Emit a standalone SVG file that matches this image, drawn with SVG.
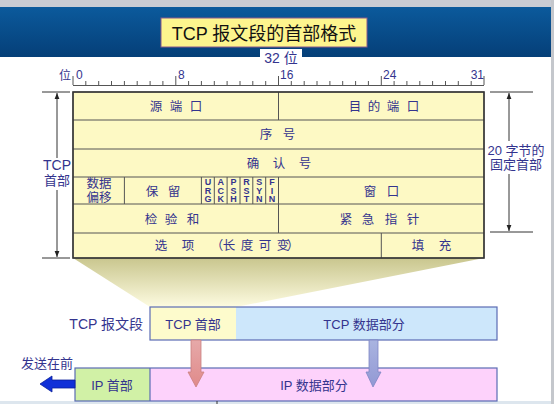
<svg xmlns="http://www.w3.org/2000/svg" width="554" height="404" viewBox="0 0 554 404">
<defs>
<linearGradient id="banner" x1="0" y1="0" x2="0" y2="1">
<stop offset="0" stop-color="#0b5a9c"/><stop offset="1" stop-color="#053f78"/>
</linearGradient>
<linearGradient id="trap" x1="0" y1="0" x2="0" y2="1">
<stop offset="0" stop-color="#c9c68e"/><stop offset="1" stop-color="#fdfbe0"/>
</linearGradient>
<linearGradient id="redA" x1="0" y1="0" x2="0" y2="1">
<stop offset="0" stop-color="#e6a9a9"/><stop offset="1" stop-color="#e08a8a"/>
</linearGradient>
<linearGradient id="bluA" x1="0" y1="0" x2="0" y2="1">
<stop offset="0" stop-color="#a9b4e0"/><stop offset="1" stop-color="#9298d4"/>
</linearGradient>
<marker id="ah" viewBox="0 0 10 10" refX="10" refY="5" markerWidth="6" markerHeight="6" orient="auto-start-reverse">
<path d="M0,1 L10,5 L0,9 z" fill="#222"/>
</marker>
<style>
.t{font-family:"Liberation Sans","Noto Sans CJK SC",sans-serif;fill:#34348e;}
.c{font-size:12.5px;}
.cell{fill:#fdf9c4;stroke:#555;stroke-width:1;}
.flag{font-family:"Liberation Sans",sans-serif;font-size:9px;font-weight:bold;fill:#34348e;text-anchor:middle;}
.dim{stroke:#333;stroke-width:1;fill:none;}
.tick{stroke:#555;stroke-width:1;}
</style>
</defs>

<!-- background -->
<rect x="0" y="0" width="554" height="404" fill="#ffffff"/>
<rect x="0" y="0" width="554" height="7" fill="#c9ccd3"/>
<rect x="0" y="7" width="552" height="50" fill="url(#banner)"/>
<rect x="551" y="0" width="3" height="404" fill="#c4c7cc"/>
<rect x="0" y="401" width="551" height="3" fill="#dde6ee"/>

<g id="title">
<rect x="161" y="18" width="206" height="29" fill="#fdf58e" stroke="#8a5a8a" stroke-width="1"/>
<text x="264" y="40" text-anchor="middle" font-family="Liberation Sans,'Noto Sans CJK SC',sans-serif" font-size="18" fill="#111">TCP 报文段的首部格式</text>
</g>

<g id="bits32">
<rect x="260" y="49" width="42" height="18" fill="#ffffff"/>
<text class="t" x="281" y="63" text-anchor="middle" font-size="14">32 位</text>
</g>

<g id="ruler">
<text class="t" x="65" y="80" text-anchor="middle" font-size="12">位</text>
<text class="t" x="76" y="79" font-size="12">0</text>
<text class="t" x="178" y="79" font-size="12">8</text>
<text class="t" x="280" y="79" font-size="12">16</text>
<text class="t" x="383" y="79" font-size="12">24</text>
<text class="t" x="484" y="79" font-size="12" text-anchor="end">31</text>
<line class="tick" x1="73" y1="85.5" x2="484" y2="85.5"/>
<path class="tick" d="M73,76V85 M85.8,81V85 M98.7,81V85 M111.5,81V85 M124.4,81V85 M137.2,81V85 M150.1,81V85 M162.9,81V85 M175.8,76V85 M188.6,81V85 M201.4,81V85 M214.3,81V85 M227.1,81V85 M240,81V85 M252.8,81V85 M265.7,81V85 M278.5,76V85 M291.3,81V85 M304.2,81V85 M317,81V85 M329.9,81V85 M342.7,81V85 M355.6,81V85 M368.4,81V85 M381.3,76V85 M394.1,81V85 M406.9,81V85 M419.8,81V85 M432.6,81V85 M445.5,81V85 M458.3,81V85 M471.2,81V85 M484,76V85"/>
</g>

<!-- trapezoid projection -->
<polygon id="projection" points="73,258 484,258 236,307 150,307" fill="url(#trap)"/>

<g id="header-table">
<rect class="cell" x="73" y="92" width="411" height="166"/>
<path d="M73,120H484 M73,149H484 M73,177H484 M73,204H484 M73,233H484 M278.5,92V120 M124.4,177V204 M201.4,177V204 M214.3,177V204 M227.1,177V204 M240,177V204 M252.8,177V204 M265.7,177V204 M278.5,177V233 M381.3,233V258" stroke="#555" stroke-width="1" fill="none"/>
<rect x="73" y="92" width="411" height="166" fill="none" stroke="#333" stroke-width="1.5"/>
</g>

<g id="src-port"><text class="t c" x="156 176 196" y="111" text-anchor="middle">源端口</text></g>
<g id="dst-port"><text class="t c" x="355 374 393 413" y="111" text-anchor="middle">目的端口</text></g>
<g id="seq"><text class="t c" x="266 289" y="139" text-anchor="middle">序号</text></g>
<g id="ack"><text class="t c" x="253 279 305" y="168" text-anchor="middle">确认号</text></g>
<g id="offset">
<text class="t c" x="99" y="188" text-anchor="middle">数据</text>
<text class="t c" x="99" y="202" text-anchor="middle">偏移</text>
</g>
<g id="reserved"><text class="t c" x="152 174" y="196" text-anchor="middle">保留</text></g>
<g id="flags">
<text class="flag" x="207.9" y="185">U</text><text class="flag" x="207.9" y="193.5">R</text><text class="flag" x="207.9" y="202">G</text>
<text class="flag" x="220.7" y="185">A</text><text class="flag" x="220.7" y="193.5">C</text><text class="flag" x="220.7" y="202">K</text>
<text class="flag" x="233.6" y="185">P</text><text class="flag" x="233.6" y="193.5">S</text><text class="flag" x="233.6" y="202">H</text>
<text class="flag" x="246.4" y="185">R</text><text class="flag" x="246.4" y="193.5">S</text><text class="flag" x="246.4" y="202">T</text>
<text class="flag" x="259.3" y="185">S</text><text class="flag" x="259.3" y="193.5">Y</text><text class="flag" x="259.3" y="202">N</text>
<text class="flag" x="272.1" y="185">F</text><text class="flag" x="272.1" y="193.5">I</text><text class="flag" x="272.1" y="202">N</text>
</g>
<g id="window"><text class="t c" x="370 393" y="196" text-anchor="middle">窗口</text></g>
<g id="checksum"><text class="t c" x="151 171 193" y="224" text-anchor="middle">检验和</text></g>
<g id="urgent"><text class="t c" x="346 368 391 413" y="224" text-anchor="middle">紧急指针</text></g>
<g id="options"><text class="t c" x="161 188 217 229 247 265 283 293" y="250" text-anchor="middle">选项（长度可变）</text></g>
<g id="padding"><text class="t c" x="418 445" y="250" text-anchor="middle">填充</text></g>

<g id="label-tcp-header">
<text class="t" x="57" y="170" text-anchor="middle" font-size="14">TCP</text>
<text class="t" x="57" y="185" text-anchor="middle" font-size="13">首部</text>
</g>
<g id="label-20bytes">
<text class="t" x="516" y="155" text-anchor="middle" font-size="13">20 字节的</text>
<text class="t" x="516" y="169" text-anchor="middle" font-size="13">固定首部</text>
</g>

<g id="tcp-segment">
<text class="t" x="143" y="329" text-anchor="end" font-size="14">TCP 报文段</text>
<rect x="150" y="307" width="86" height="33" fill="#fdfbcc"/>
<rect x="236" y="307" width="261" height="33" fill="#cde7fb"/>
<rect x="150" y="307" width="347" height="33" fill="none" stroke="#5b6cb4" stroke-width="1.2"/>
<text class="t" x="193" y="329" text-anchor="middle" font-size="13">TCP 首部</text>
<text class="t" x="364" y="329" text-anchor="middle" font-size="13">TCP 数据部分</text>
</g>

<g id="ip-datagram">
<rect x="75" y="368" width="75" height="33" fill="#d1f1a6"/>
<rect x="150" y="368" width="347" height="33" fill="#fdd2fb"/>
<rect x="75" y="368" width="422" height="33" fill="none" stroke="#5b6cb4" stroke-width="1.2"/>
<line x1="150" y1="368" x2="150" y2="401" stroke="#5b6cb4" stroke-width="1.2"/>
<text class="t" x="112" y="390" text-anchor="middle" font-size="13">IP 首部</text>
<text class="t" x="314" y="390" text-anchor="middle" font-size="13">IP 数据部分</text>
</g>

<g id="send-first">
<text class="t" x="47" y="368" text-anchor="middle" font-size="13">发送在前</text>
</g>

<g id="connectors">
<!-- left dimension -->
<path class="dim" d="M42,92H70 M42,258H70"/>
<line class="dim" x1="57" y1="158" x2="57" y2="93" marker-end="url(#ah)"/>
<line class="dim" x1="57" y1="190" x2="57" y2="257" marker-end="url(#ah)"/>
<!-- right dimension -->
<path class="dim" d="M490,92H533 M490,232H533"/>
<line class="dim" x1="509" y1="141" x2="509" y2="93" marker-end="url(#ah)"/>
<line class="dim" x1="509" y1="174" x2="509" y2="231" marker-end="url(#ah)"/>
<!-- down arrows -->
<path d="M191,340H201V372H204L196,387L188,372H191Z" fill="url(#redA)" stroke="#c98080" stroke-width="0.8"/>
<path d="M369,340H378V372H381L373,387L366,372H369Z" fill="url(#bluA)" stroke="#7f86c4" stroke-width="0.8"/>
<!-- send-first arrow -->
<path d="M75,380H52V376L40,384L52,392V388H75Z" fill="#1030d8" stroke="#0a1f9a" stroke-width="0.8"/>
<line x1="217" y1="401" x2="217" y2="404" stroke="#333" stroke-width="1"/>
</g>
</svg>
